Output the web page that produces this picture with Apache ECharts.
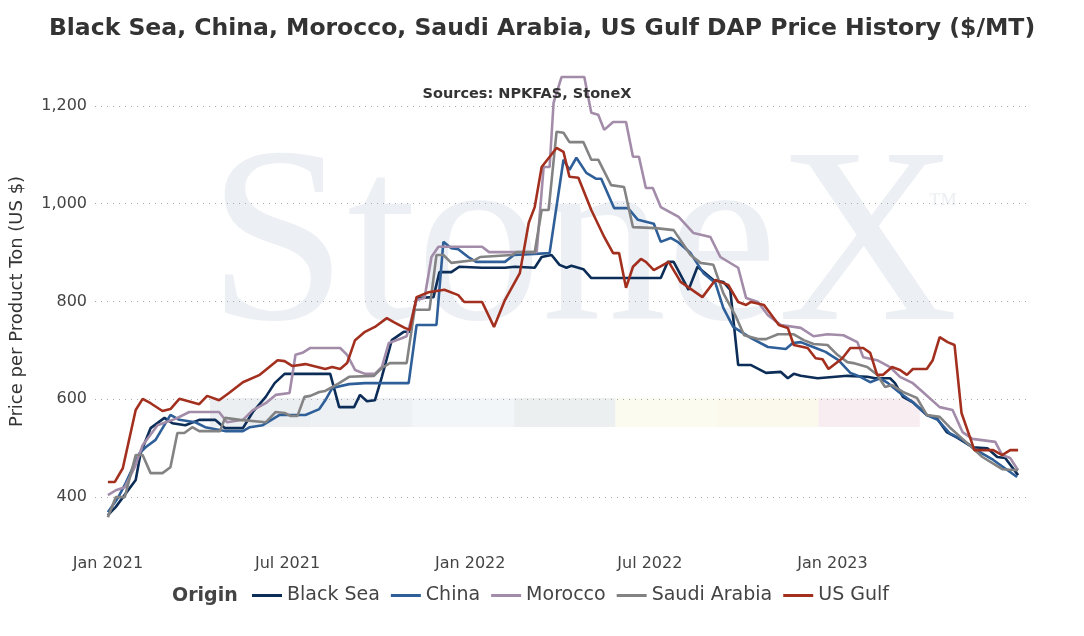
<!DOCTYPE html>
<html><head><meta charset="utf-8">
<script src="https://cdn.jsdelivr.net/npm/echarts@6/dist/echarts.min.js"></script>
<style>html,body{margin:0;padding:0;background:#fff}#c{width:1084px;height:636px}</style>
</head><body><div id="c"></div>
<script>
// Days since 2021-01-01 and $/MT values
const blackSeaDays = [0,8,28,33,43,57,65,78,92,108,118,136,146,159,168,178,224,233,248,254,261,269,276,286,298,304,311,328,334,346,354,377,400,410,430,437,447,455,462,467,479,487,557,564,570,585,594,610,620,627,635,648,663,678,685,691,698,715,745,765,773,788,793,801,811,825,835,845,856,871,886,896,904,917];
const blackSeaVals = [363,380,435,490,541,562,551,547,558,558,541,541,574,605,633,652,652,584,584,609,596,598,646,721,738,738,807,809,860,860,871,869,869,871,869,891,895,875,869,873,866,848,848,881,881,824,871,844,840,824,670,670,654,656,643,652,648,643,648,646,643,643,633,605,594,568,562,533,521,502,500,482,480,445];
const chinaDays = [0,10,18,32,38,48,63,72,88,98,118,136,143,156,173,199,213,219,226,243,259,303,311,331,338,346,353,363,371,400,409,445,459,465,472,482,492,497,510,524,534,550,557,567,574,587,600,612,620,630,648,665,683,690,698,713,723,736,748,758,768,778,786,798,811,825,836,848,861,875,892,916];
const chinaVals = [369,398,429,490,502,517,568,558,553,543,535,535,543,547,568,568,580,598,623,631,633,633,752,752,922,909,907,891,881,881,895,899,1090,1069,1094,1063,1051,1051,991,991,967,959,922,930,922,899,858,838,787,748,725,707,703,715,717,705,697,680,654,646,635,643,633,613,594,568,558,531,517,496,476,441];
const moroccoDays = [0,8,17,27,35,50,68,82,112,120,136,146,159,169,183,189,196,204,234,241,249,259,269,276,283,296,301,311,319,326,333,377,384,432,439,445,449,457,480,487,494,500,509,522,529,535,542,549,557,575,590,607,617,635,643,655,665,678,698,711,725,741,755,761,775,788,798,811,821,838,851,861,871,894,901,909,917];
const moroccoVals = [404,414,420,461,506,547,560,574,574,553,558,578,592,609,613,691,695,705,705,691,660,652,652,666,715,725,729,803,807,891,912,912,901,901,1075,1075,1206,1259,1259,1186,1182,1151,1167,1167,1096,1096,1032,1032,993,973,940,932,891,869,807,799,772,752,746,729,733,731,717,686,680,666,646,633,615,584,578,533,519,513,486,480,455];
const saudiDays = [0,8,17,28,35,43,55,63,70,77,85,92,113,118,133,159,169,178,184,191,198,204,213,219,233,243,268,276,284,301,309,324,331,338,346,370,375,407,412,430,437,444,452,459,465,479,487,494,507,520,529,552,570,587,597,610,620,633,641,656,663,675,691,701,711,725,735,745,751,765,775,783,790,801,815,825,838,848,861,881,901,917];
const saudiVals = [359,400,400,486,486,449,449,461,531,531,543,535,535,562,558,553,574,572,566,566,605,607,615,617,633,646,648,664,674,674,783,783,895,895,879,885,891,895,901,901,987,987,1147,1145,1126,1126,1090,1090,1038,1034,952,950,946,895,879,875,817,768,731,723,723,733,733,721,713,711,691,676,674,666,650,625,629,615,603,568,564,543,519,482,457,455];
const usGulfDays = [0,7,15,28,35,43,55,63,72,92,100,112,122,136,153,171,178,186,199,219,226,234,241,249,259,269,281,288,299,304,311,323,339,353,359,377,389,400,415,424,430,437,452,459,465,474,487,500,509,515,522,529,537,542,550,565,577,599,612,625,635,643,648,661,676,685,691,705,713,720,726,740,748,761,768,775,781,790,798,805,811,825,831,838,846,853,860,866,873,892,901,909,917];
const usGulfVals = [431,431,459,578,601,592,576,580,601,590,607,598,613,635,650,680,678,668,672,662,666,662,674,721,738,748,766,758,746,742,809,819,824,813,799,799,748,803,858,961,993,1075,1114,1106,1055,1053,987,932,899,899,828,871,887,881,864,881,840,809,844,834,799,793,799,793,752,746,711,705,684,682,662,684,705,705,695,650,650,666,660,650,662,662,680,727,717,711,572,537,496,496,486,496,496];
const seriesNames = ['Black Sea','China','Morocco','Saudi Arabia','US Gulf'];
const seriesColors = ['#0c2d57','#2f5f98','#a38ca9','#838383','#a3301f'];
const yLabelValues = [400,600,800,1000,1200];

const base = Date.UTC(2021,0,1), DAY = 864e5;
const toPts = (d,v) => d.map((x,i)=>[base + x*DAY, v[i]]);
const allData = [toPts(blackSeaDays,blackSeaVals),toPts(chinaDays,chinaVals),toPts(moroccoDays,moroccoVals),toPts(saudiDays,saudiVals),toPts(usGulfDays,usGulfVals)];
const MON = ['Jan','Feb','Mar','Apr','May','Jun','Jul','Aug','Sep','Oct','Nov','Dec'];
const bandColors = ['#eceff2','#edf1f4','#f3f6f9','#ebefef','#fcfbf0','#fbf8ec','#f8eef1'];
const FONT = '"DejaVu Sans", Verdana, sans-serif';

const chart = echarts.init(document.getElementById('c'));
const graphics = [
  {type:'text', left:208, top:128, z:0, style:{text:'StoneX', font:'normal 250px "Liberation Serif", serif', fill:'#eceff3'}},
  {type:'text', left:928, top:190, z:0, style:{text:'™', font:'normal 30px "Liberation Serif", serif', fill:'#eceff3'}},
  {type:'text', left:172, top:587, style:{text:'Origin', font:'bold 19px ' + FONT, fill:'#444'}}
];
bandColors.forEach((c,i)=>graphics.push({type:'rect', z:0, shape:{x:210+i*101.4, y:398, width:101.4, height:29}, style:{fill:c}}));

chart.setOption({
  animation:false,
  title:[{text:'Black Sea, China, Morocco, Saudi Arabia, US Gulf DAP Price History ($/MT)', left:'center', top:12,
    textStyle:{fontFamily:FONT, fontSize:23.5, fontWeight:'bold', color:'#333'}},
    {text:'Sources: NPKFAS, StoneX', left:522, textAlign:'center', top:82, textStyle:{fontFamily:FONT, fontSize:14.5, fontWeight:'bold', color:'#333'}}],
  graphic:graphics,
  grid:{left:92, right:54, top:57, bottom:90},
  legend:{bottom:26, left:247, icon:'rect', itemWidth:30, itemHeight:3, itemGap:11,
    textStyle:{fontFamily:FONT, fontSize:19, color:'#444'}, data:seriesNames},
  xAxis:{type:'time', min:base-13*DAY, max:base+929*DAY,
    axisLine:{show:false}, axisTick:{show:false}, splitLine:{show:false},
    axisLabel:{margin:10, fontFamily:FONT, fontSize:16, color:'#444', hideOverlap:false,
      formatter:function(v){const d=new Date(v); if(v<base+900*DAY && d.getUTCDate()===1 && (d.getUTCMonth()===0||d.getUTCMonth()===6)) return MON[d.getUTCMonth()]+' '+d.getUTCFullYear(); return '';}}},
  yAxis:{type:'value', min:300, max:1300, interval:100,
    name:'Price per Product Ton (US $)', nameLocation:'middle', nameGap:69,
    nameTextStyle:{fontFamily:FONT, fontSize:18, color:'#333'},
    axisLine:{show:false}, axisTick:{show:false},
    axisLabel:{margin:8, fontFamily:FONT, fontSize:16, color:'#444',
      formatter:v=>yLabelValues.includes(v)?v.toLocaleString('en-US'):''},
    splitLine:{lineStyle:{type:[1,5], color:['rgba(0,0,0,0)','#aaa']}}},
  series:seriesNames.map((n,i)=>({name:n, type:'line', data:allData[i], showSymbol:false, z:2+i,
    lineStyle:{width:2.6, color:seriesColors[i]}, itemStyle:{color:seriesColors[i]}}))
});
</script></body></html>
